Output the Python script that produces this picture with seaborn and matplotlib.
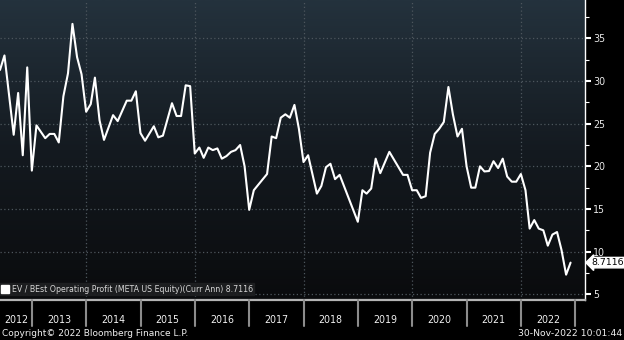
import matplotlib
matplotlib.use("Agg")
import matplotlib.pyplot as plt
import matplotlib.dates as mdates
from matplotlib import font_manager as fm
from matplotlib.lines import Line2D
from matplotlib.colors import LinearSegmentedColormap
import numpy as np
import pandas as pd
import seaborn as sns
from datetime import datetime

# ---------------- data ----------------
months = [
    "2012-05", "2012-06", "2012-08", "2012-09", "2012-10", "2012-11", "2012-12",
    "2013-01", "2013-03", "2013-04", "2013-05", "2013-06", "2013-07", "2013-08",
    "2013-09", "2013-10", "2013-11", "2013-12",
    "2014-01", "2014-02", "2014-03", "2014-04", "2014-06", "2014-07", "2014-09",
    "2014-10", "2014-11", "2014-12",
    "2015-01", "2015-03", "2015-04", "2015-05", "2015-07", "2015-08", "2015-09",
    "2015-10", "2015-11", "2015-12",
    "2016-01", "2016-02", "2016-03", "2016-04", "2016-05", "2016-06", "2016-07",
    "2016-08", "2016-09", "2016-10", "2016-11", "2016-12",
    "2017-01", "2017-02", "2017-04", "2017-05", "2017-06", "2017-07", "2017-08",
    "2017-09", "2017-10", "2017-11", "2017-12",
    "2018-01", "2018-03", "2018-04", "2018-05", "2018-06", "2018-07", "2018-08",
    "2018-12",
    "2019-01", "2019-02", "2019-03", "2019-04", "2019-05", "2019-07", "2019-10",
    "2019-11", "2019-12",
    "2020-01", "2020-02", "2020-03", "2020-04", "2020-05", "2020-06", "2020-07",
    "2020-08", "2020-09", "2020-10", "2020-11", "2020-12",
    "2021-01", "2021-02", "2021-03", "2021-04", "2021-05", "2021-06", "2021-07",
    "2021-08", "2021-09", "2021-10", "2021-11", "2021-12",
    "2022-01", "2022-02", "2022-03", "2022-04", "2022-05", "2022-06", "2022-07",
    "2022-08", "2022-09", "2022-10", "2022-11",
]
ev_ebit = [
    31.3, 33.0, 23.7, 28.6, 21.3, 31.6, 19.5,
    24.8, 23.3, 23.8, 23.8, 22.8, 28.2, 30.9,
    36.7, 32.8, 30.8, 26.4,
    27.3, 30.4, 25.4, 23.1, 26.0, 25.3, 27.7,
    27.7, 28.8, 23.9,
    23.0, 24.7, 23.4, 23.6, 27.4, 25.9, 25.9,
    29.5, 29.4, 21.5,
    22.2, 21.0, 22.2, 21.9, 22.1, 20.9, 21.2,
    21.7, 21.9, 22.5, 20.0, 14.9,
    17.2, 17.8, 19.1, 23.5, 23.3, 25.7, 26.1,
    25.7, 27.2, 24.4, 20.5,
    21.3, 16.8, 17.7, 19.9, 20.3, 18.5, 19.0,
    13.5,
    17.2, 16.8, 17.4, 20.9, 19.2, 21.7, 19.0,
    19.0, 17.2,
    17.2, 16.3, 16.5, 21.6, 23.8, 24.4, 25.2,
    29.3, 26.1, 23.5, 24.4, 20.0,
    17.5, 17.5, 20.0, 19.4, 19.45, 20.6, 19.8,
    20.9, 18.8, 18.2, 18.2, 19.1,
    17.2, 12.7, 13.7, 12.7, 12.5, 10.7, 12.0,
    12.3, 10.2, 7.3, 8.7116,
]
last_value_label = "8.7116"
series_label = "EV / BEst Operating Profit (META US Equity)(Curr Ann) 8.7116"
year_labels = [str(y) for y in range(2012, 2023)]
y_major_ticks = [5, 10, 15, 20, 25, 30, 35]
copyright_text = "Copyright\u00a9 2022 Bloomberg Finance L.P."
timestamp_text = "30-Nov-2022 10:01:44"

df = pd.DataFrame({
    "date": pd.to_datetime(months) + pd.offsets.MonthEnd(0),
    "value": ev_ebit,
})

# ---------------- fonts ----------------
avail = {f.name for f in fm.fontManager.ttflist}
if "Liberation Sans Narrow" in avail:
    FONT = "Liberation Sans Narrow"
    fs_scale = 1.0
else:
    FONT = "DejaVu Sans"
    fs_scale = 0.82

sns.set_theme(style="dark")
plt.rcParams["font.family"] = [FONT, "DejaVu Sans"]

# ---------------- figure ----------------
W, H = 624, 340
fig = plt.figure(figsize=(W / 100, H / 100), dpi=100, facecolor="black")
ax = fig.add_axes([0, 40 / H, 585 / W, 300 / H])

# gradient background
grad_cmap = LinearSegmentedColormap.from_list("bg", ["#0a0b0d", "#141a20", "#24323d"])
grad = np.linspace(0, 1, 256).reshape(-1, 1)
ax.imshow(grad, extent=(0, 1, 0, 1), transform=ax.transAxes, cmap=grad_cmap,
          origin="lower", aspect="auto", zorder=0)

xmin = datetime(2012, 5, 31)
xmax = datetime(2023, 3, 7)

# grid lines
grid_kw = dict(color="#4d565d", lw=0.9, linestyle=(0, (1, 2)), zorder=1)
for yv in y_major_ticks:
    ax.axhline(yv, **grid_kw)
for yr in [2014, 2016, 2018, 2020, 2022]:
    ax.axvline(datetime(yr, 1, 1), **grid_kw)

sns.lineplot(data=df, x="date", y="value", ax=ax, color="white", lw=1.5,
             zorder=3, legend=False)

ax.set_xlim(xmin, xmax)
ax.set_ylim(4.33, 39.5)
ax.set_xlabel("")
ax.set_ylabel("")
ax.grid(False)

# spines
for s in ["top", "left"]:
    ax.spines[s].set_visible(False)
ax.spines["right"].set_color("white")
ax.spines["right"].set_linewidth(1.0)
ax.spines["bottom"].set_color("#b4b4b4")
ax.spines["bottom"].set_linewidth(1.6)

# y axis on the right
ax.yaxis.tick_right()
ax.set_yticks(y_major_ticks)
ax.set_yticks([7.5, 12.5, 17.5, 22.5, 27.5, 32.5, 37.5], minor=True)
ax.tick_params(axis="y", which="major", length=4, width=1.5, colors="white",
               labelsize=8.4 * fs_scale, pad=2, labelcolor="#e8e8e8")
ax.tick_params(axis="y", which="minor", length=3, width=0.8, colors="white")
ax.tick_params(axis="x", which="both", length=0, labelbottom=False)
ax.set_xticks([])

# year separators and labels below the axes
xt = ax.get_xaxis_transform()
for yr in range(2013, 2024):
    ax.plot([datetime(yr, 1, 1)] * 2, [0, -26 / 300], transform=xt,
            color="#8c8c8c", lw=1.5, clip_on=False, zorder=5)
for lab in year_labels:
    yr = int(lab)
    if yr == 2012:
        left = mdates.date2num(xmin)
        right = mdates.date2num(datetime(2013, 1, 1))
        xc = (left + right) / 2
    else:
        xc = mdates.date2num(datetime(yr, 7, 1))
    ax.text(xc, -20 / 300, lab, transform=xt, ha="center", va="center",
            color="#f0f0f0", fontsize=8.4 * fs_scale, clip_on=False)

# last value label
ax.annotate(last_value_label, xy=(1.0, 8.7116),
            xycoords=ax.get_yaxis_transform(),
            xytext=(4.5, 0), textcoords="offset points",
            ha="left", va="center", color="black", fontsize=8.2 * fs_scale,
            bbox=dict(boxstyle="larrow,pad=0.08", fc="white", ec="white"),
            annotation_clip=False, zorder=6)

# legend
handle = Line2D([], [], marker="s", color="white", linestyle="none",
                markersize=5.5, markeredgecolor="white")
leg = ax.legend([handle], [series_label], loc="lower left",
                bbox_to_anchor=(0.0, 0.016), borderaxespad=0,
                frameon=True, fancybox=False, handlelength=0.8,
                handletextpad=0.5, borderpad=0.2,
                prop={"family": [FONT, "DejaVu Sans"], "size": 6.9 * fs_scale})
leg.get_frame().set_facecolor("#1e1f21")
leg.get_frame().set_edgecolor("#1e1f21")
leg.get_frame().set_alpha(0.95)
for t in leg.get_texts():
    t.set_color("#d6d6d6")

# footer texts
fig.text(2 / W, 1 - 333 / H, copyright_text, ha="left", va="center",
         color="#f0f0f0", fontsize=7.9 * fs_scale)
fig.text(622 / W, 1 - 333 / H, timestamp_text, ha="right", va="center",
         color="#f0f0f0", fontsize=8.1 * fs_scale)

fig.savefig("out.png", dpi=100, facecolor="black")
